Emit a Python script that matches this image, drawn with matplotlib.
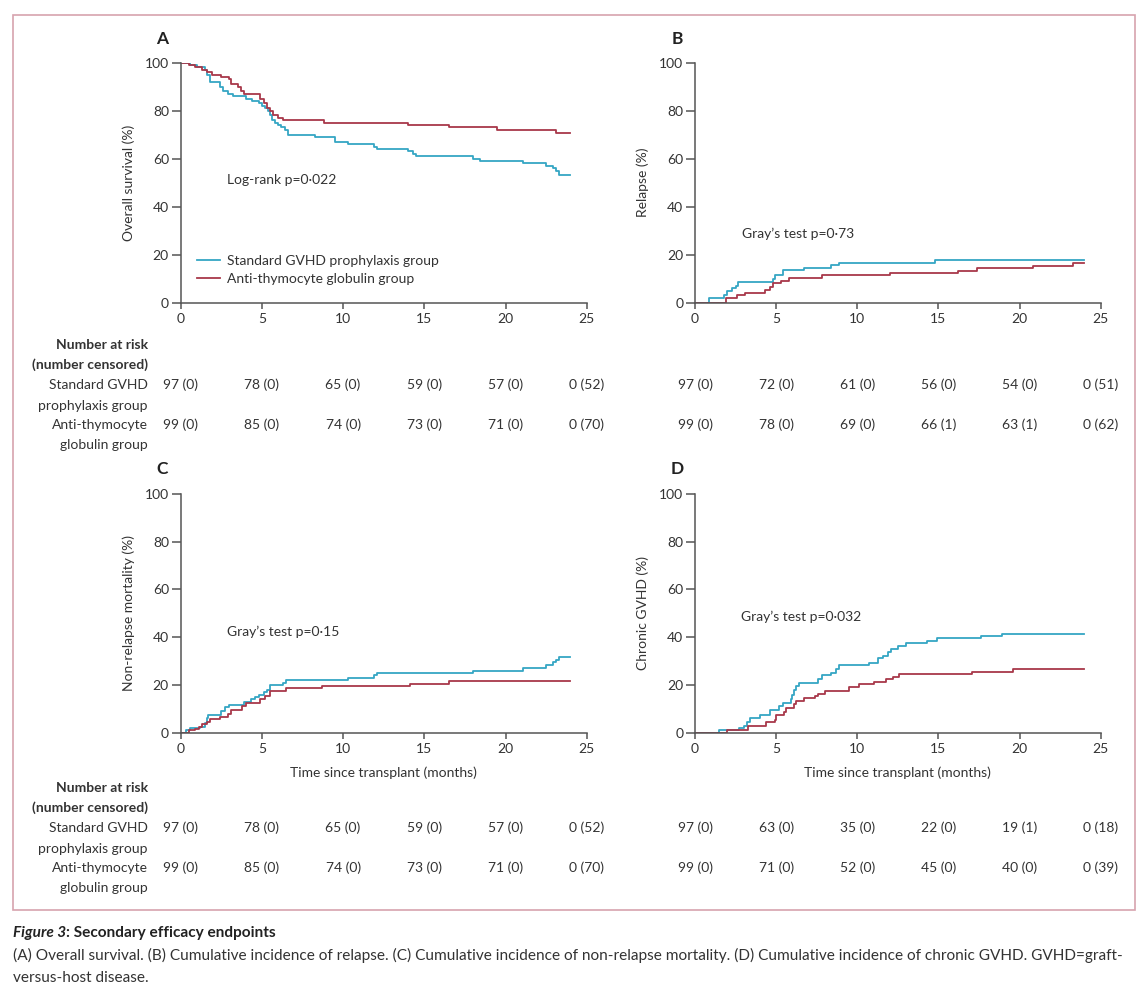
import matplotlib
matplotlib.use("Agg")
import matplotlib.pyplot as plt
from matplotlib.patches import Rectangle
from matplotlib.transforms import blended_transform_factory

plt.rcParams['font.family'] = ['Lato', 'DejaVu Sans']

W, H = 1146, 990
BLUE = '#35a6c4'
RED = '#a8384a'
TXT = '#333333'
AX = '#555555'

# step curves: (time in months, percent)
A_std_t = [0, 0.6, 1.0, 1.5, 1.6, 1.8, 2.4, 2.6, 2.9, 3.2, 4.0, 4.4, 4.8, 5.0, 5.2, 5.4, 5.5, 5.6, 5.8, 6.0,
           6.2, 6.4, 6.6, 8.3, 9.5, 10.3, 11.9, 12.1, 14.0, 14.3, 14.5, 18.0, 18.4, 21.1, 22.5, 22.9, 23.1, 23.3, 24]
A_std_v = [100, 99, 98, 97, 95, 92, 90, 88, 87, 86, 85, 84, 83, 82, 81, 80, 78, 76, 75, 74,
           73, 72, 70, 69, 67, 66, 65, 64, 63, 62, 61, 60, 59, 58, 57, 56, 55, 53, 53]
A_atg_t = [0, 0.5, 0.9, 1.3, 1.6, 1.9, 2.5, 3.0, 3.1, 3.5, 3.7, 3.9, 4.9, 5.1, 5.3, 5.5, 5.7, 6.0, 6.3,
           8.8, 14.0, 16.5, 19.5, 23.1, 24]
A_atg_v = [100, 99, 98, 97, 96, 95, 94, 93, 91, 90, 88, 87, 85, 83, 81, 80, 78, 77, 76,
           75, 74, 73, 72, 70.5, 70.5]

B_std_t = [0, 0.85, 1.8, 2.0, 2.3, 2.5, 2.65, 4.8, 4.9, 5.4, 6.7, 8.4, 8.9, 14.8, 24]
B_std_v = [0, 2, 3, 5, 6, 7, 8.5, 10, 11.5, 13.5, 14.5, 15.5, 16.7, 17.7, 17.7]
B_atg_t = [0, 1.9, 2.6, 3.1, 4.3, 4.6, 4.8, 5.3, 5.8, 7.8, 12.0, 16.2, 17.4, 20.8, 23.3, 24]
B_atg_v = [0, 2, 3.2, 4.2, 5.2, 6.5, 8, 9, 10.4, 11.4, 12.4, 13.4, 14.4, 15.4, 16.6, 16.6]

C_std_t = [0, 0.3, 0.6, 1.2, 1.5, 1.6, 1.7, 2.5, 2.75, 3.0, 3.9, 4.3, 4.6, 4.8, 5.1, 5.3, 5.5, 6.3, 6.5,
           10.3, 11.9, 12.1, 18.0, 21.1, 22.5, 22.9, 23.1, 23.3, 24]
C_std_v = [0, 1, 2, 2.5, 4, 6, 7.5, 9, 10.6, 11.8, 13, 14, 15, 16, 17, 18, 20, 21, 22,
           23, 24, 25.1, 26, 27.2, 28.4, 29.5, 30.5, 31.6, 31.6]
C_atg_t = [0, 0.5, 0.9, 1.1, 1.3, 1.6, 1.8, 2.4, 2.9, 3.1, 3.8, 4.0, 4.9, 5.2, 5.5, 6.5, 8.7, 14.1, 16.5, 24]
C_atg_v = [0, 1, 1.5, 2.5, 3.5, 4.5, 5.6, 6.4, 8, 9.5, 11, 12.6, 14, 15.5, 17.5, 18.6, 19.6, 20.5, 21.5, 21.5]

D_std_t = [0, 1.5, 2.7, 3.0, 3.2, 3.4, 4.0, 4.6, 5.2, 5.4, 5.9, 6.0, 6.1, 6.2, 6.4, 7.6, 7.8, 8.4, 8.7, 8.9,
           10.7, 11.3, 11.6, 11.9, 12.1, 12.5, 13.0, 14.3, 14.9, 17.6, 18.9, 24]
D_std_v = [0, 1.1, 2, 3, 4.5, 6.3, 7.4, 9.5, 11, 12.6, 14, 16, 18, 19.5, 20.9, 22.5, 24, 25, 26.5, 28.2,
           29.3, 31.1, 32.2, 33.6, 35, 36.2, 37.4, 38.5, 39.5, 40.5, 41.5, 41.5]
D_atg_t = [0, 2.0, 3.25, 4.4, 4.9, 5.0, 5.5, 5.6, 6.1, 6.2, 6.7, 7.4, 7.6, 8.0, 9.5, 10.1, 11.0, 11.8,
           12.2, 12.6, 17.05, 19.6, 24]
D_atg_v = [0, 1, 2.9, 4.3, 5.5, 7.3, 8.5, 10.2, 12, 13.4, 14.4, 15.3, 16.3, 17.5, 19.3, 20.3, 21.4, 22.3,
           23.5, 24.6, 25.6, 26.5, 26.5]

risk_times = [0, 5, 10, 15, 20, 25]
AC_std_n = [97, 78, 65, 59, 57, 0]
AC_std_c = [0, 0, 0, 0, 0, 52]
AC_atg_n = [99, 85, 74, 73, 71, 0]
AC_atg_c = [0, 0, 0, 0, 0, 70]
B_std_n = [97, 72, 61, 56, 54, 0]
B_std_c = [0, 0, 0, 0, 0, 51]
B_atg_n = [99, 78, 69, 66, 63, 0]
B_atg_c = [0, 0, 0, 1, 1, 62]
D_std_n = [97, 63, 35, 22, 19, 0]
D_std_c = [0, 0, 0, 0, 1, 18]
D_atg_n = [99, 71, 52, 45, 40, 0]
D_atg_c = [0, 0, 0, 0, 0, 39]

row_labels = ["Number at risk", "(number censored)", "Standard GVHD", "prophylaxis group",
              "Anti-thymocyte", "globulin group"]


def fy(px):
    return 1 - px / H


def make_axes(fig, x0, x1, ytop, ybot):
    return fig.add_axes([x0 / W, fy(ybot), (x1 - x0) / W, (ybot - ytop) / H])


def style(ax, ylabel, xlabel=None):
    ax.set_xlim(0, 25)
    ax.set_ylim(0, 100)
    ax.set_xticks(range(0, 26, 5))
    ax.set_yticks(range(0, 101, 20))
    for s in ['top', 'right']:
        ax.spines[s].set_visible(False)
    for s in ['left', 'bottom']:
        ax.spines[s].set_color(AX)
        ax.spines[s].set_linewidth(1.1)
    ax.tick_params(axis='y', length=6.5, width=1.1, color=AX, labelcolor=TXT, labelsize=10, pad=2)
    ax.tick_params(axis='x', length=4.3, width=1.1, color=AX, labelcolor=TXT, labelsize=10, pad=3)
    ax.set_ylabel(ylabel, fontsize=10, color=TXT)
    ax.yaxis.set_label_coords(-0.113, 0.5)
    if xlabel:
        ax.set_xlabel(xlabel, fontsize=10, color=TXT, va='top')
        ax.xaxis.set_label_coords(0.5, -0.14)
    ax.patch.set_alpha(0)


def curves(ax, st, sv, at, av):
    ax.step(st, sv, where='post', color=BLUE, lw=1.3, label="Standard GVHD prophylaxis group")
    ax.step(at, av, where='post', color=RED, lw=1.3, label="Anti-thymocyte globulin group")


def table(fig, ax, ytop, std_n, std_c, atg_n, atg_c, labels):
    tr = blended_transform_factory(ax.transData, fig.transFigure)
    ys = [ytop + d for d in (0, 20, 40, 61, 80, 100)]
    for t, n, c in zip(risk_times, std_n, std_c):
        ax.text(t, fy(ys[2]), f"{n} ({c})", transform=tr, ha='center', va='center',
                fontsize=10, color=TXT)
    for t, n, c in zip(risk_times, atg_n, atg_c):
        ax.text(t, fy(ys[4]), f"{n} ({c})", transform=tr, ha='center', va='center',
                fontsize=10, color=TXT)
    if labels:
        for i, lab in enumerate(row_labels):
            fig.text(148 / W, fy(ys[i]), lab, ha='right', va='center', fontsize=10, color=TXT,
                     fontweight='bold' if i < 2 else 'normal')


fig = plt.figure(figsize=(W / 100, H / 100), dpi=100)
bg = fig.add_axes([0, 0, 1, 1])
bg.axis('off')
bg.set_xlim(0, W)
bg.set_ylim(H, 0)
bg.add_patch(Rectangle((13, 15), 1122, 895, fill=False, edgecolor='#d7a3ae', lw=1.2))

axA = make_axes(fig, 180.7, 586.7, 62.7, 302.7)
axB = make_axes(fig, 695, 1100.7, 62.7, 302.7)
axC = make_axes(fig, 180.7, 586.7, 494, 732.7)
axD = make_axes(fig, 695, 1100.7, 494, 732.7)

style(axA, "Overall survival (%)")
style(axB, "Relapse (%)")
style(axC, "Non-relapse mortality (%)", "Time since transplant (months)")
style(axD, "Chronic GVHD (%)", "Time since transplant (months)")

curves(axA, A_std_t, A_std_v, A_atg_t, A_atg_v)
curves(axB, B_std_t, B_std_v, B_atg_t, B_atg_v)
curves(axC, C_std_t, C_std_v, C_atg_t, C_atg_v)
curves(axD, D_std_t, D_std_v, D_atg_t, D_atg_v)

axA.legend(loc='upper left', bbox_to_anchor=(196.7 / W, fy(255)), bbox_transform=fig.transFigure,
           frameon=False, fontsize=10, handlelength=1.7, handletextpad=0.45, labelspacing=0.45,
           borderpad=0, borderaxespad=0, labelcolor=TXT)

for letter, lx, ly in [("A", 162.5, 39), ("B", 677, 39), ("C", 162.5, 469), ("D", 677, 469)]:
    bg.text(lx, ly, letter, fontsize=12.5, fontweight='bold', ha='center', va='center', color='#222222')
bg.text(227, 180, "Log-rank p=0\u00b7022", fontsize=10, va='center', color=TXT)
bg.text(742, 234, "Gray\u2019s test p=0\u00b773", fontsize=10, va='center', color=TXT)
bg.text(227, 632, "Gray\u2019s test p=0\u00b715", fontsize=10, va='center', color=TXT)
bg.text(741, 617, "Gray\u2019s test p=0\u00b7032", fontsize=10, va='center', color=TXT)

table(fig, axA, 345, AC_std_n, AC_std_c, AC_atg_n, AC_atg_c, True)
table(fig, axB, 345, B_std_n, B_std_c, B_atg_n, B_atg_c, False)
table(fig, axC, 788, AC_std_n, AC_std_c, AC_atg_n, AC_atg_c, True)
table(fig, axD, 788, D_std_n, D_std_c, D_atg_n, D_atg_c, False)

t1 = bg.text(12.7, 933, "Figure 3", fontsize=11.1, fontstyle='italic', fontweight='bold',
             va='center', color='#222222')
bg.annotate(": Secondary efficacy endpoints", xy=(1, 0.5), xycoords=t1, va='center',
            fontsize=11.1, fontweight='bold', color='#222222')
bg.text(12.7, 955, "(A) Overall survival. (B) Cumulative incidence of relapse. (C) Cumulative incidence "
        "of non-relapse mortality. (D) Cumulative incidence of chronic GVHD. GVHD=graft-",
        fontsize=11.1, va='center', color=TXT)
bg.text(12.7, 978, "versus-host disease.", fontsize=11.1, va='center', color=TXT)

fig.savefig("out.png", dpi=100)
